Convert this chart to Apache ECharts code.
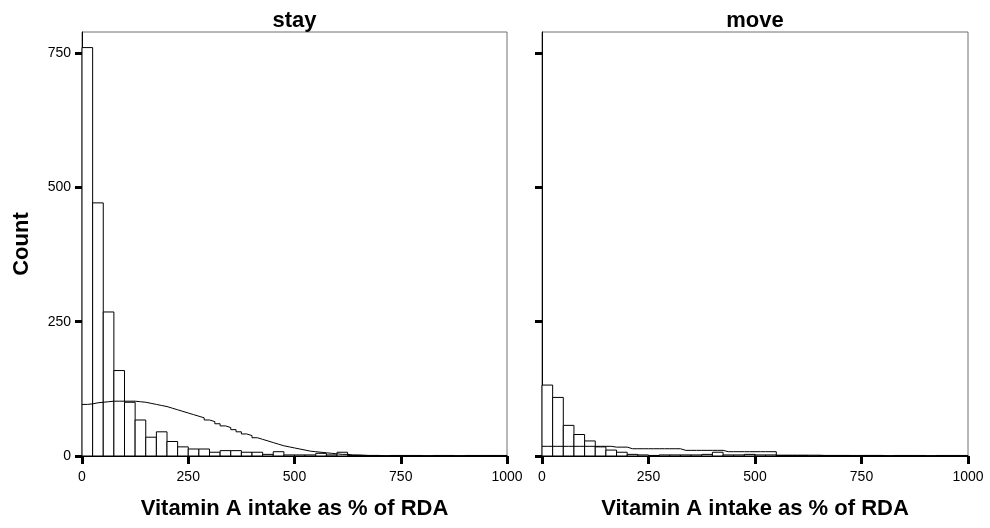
<!DOCTYPE html>
<html>
<head>
<meta charset="utf-8">
<script src="https://cdn.jsdelivr.net/npm/echarts@6/dist/echarts.min.js"></script>
<style>
  html, body { margin: 0; padding: 0; background: #fff; }
  #chart { width: 990px; height: 528px; }
</style>
</head>
<body>
<div id="chart"></div>
<script>
// Histogram bins: 40 bins of width 25 covering 0–1000 (% of RDA)
const binWidth = 25;

// Counts per bin for each group
const stayCounts = [
  760, 471, 268, 159, 100, 67, 35, 45, 27, 17,
  13, 13, 7, 10, 10, 7, 7, 3, 8, 2,
  2, 2, 5, 2, 7, 1, 1, 1, 0, 1,
  1, 1, 0, 1, 1, 0, 1, 1, 1, 1
];
const moveCounts = [
  132, 109, 57, 40, 28, 17, 11, 7, 3, 2,
  1, 2, 2, 2, 2, 3, 7, 2, 2, 3,
  2, 2, 1, 1, 1, 0, 1, 1, 1, 0,
  1, 1, 0, 1, 1, 1, 0, 1, 1, 1
];

// Fitted normal curves, sampled every 12.5 units from 0 to 1000
const curveStep = 12.5;
const stayCurve = [
  96, 97, 99, 100, 101, 102, 102, 102, 102, 102,
  101, 100, 98, 96, 94, 92, 89, 86, 83, 80,
  77, 74, 71, 67, 64, 60, 56, 53, 49, 45,
  41, 38, 34, 31, 28, 25, 22, 19, 17, 15,
  13, 11, 9, 8, 7, 6, 5, 4, 3, 3,
  2, 2, 1.5, 1, 1, 1, 0.5, 0.5, 0.5, 0.5,
  0.5, 0.5, 0.5, 0.5, 0.5, 0.5, 0.5, 0.5, 0.5, 0.5,
  0.5, 0.5, 0.5, 0.5, 0.5, 0.5, 0.5, 0.5, 0.5, 0.5,
  0.5
];
const moveCurve = [
  18, 18, 18, 18, 18, 18, 18, 18, 18, 18,
  18, 18, 18, 16.5, 16.5, 16.5, 13.5, 13.5, 13.5, 13.5,
  13.5, 13.5, 13.5, 13.5, 13.5, 13.5, 10.5, 10.5, 10.5, 10.5,
  10.5, 10.5, 10.5, 10.5, 8, 8, 8, 8, 8, 8,
  8, 8, 8, 8, 1.5, 1.5, 1.5, 1.5, 1.5, 1.5,
  1.5, 1.5, 1, 1, 1, 1, 1, 1, 1, 1,
  1, 1, 1, 1, 0.5, 0.5, 0.5, 0.5, 0.5, 0.5,
  0.5, 0.5, 0.5, 0.5, 0.5, 0.5, 0.5, 0.5, 0.5, 0.5,
  0.5
];

const panelTitles = ['stay', 'move'];
const xTicks = [0, 250, 500, 750, 1000];
const yTicks = [0, 250, 500, 750];
const xTitle = 'Vitamin A intake as % of RDA';
const yTitle = 'Count';

const FONT = 'Arial, "Liberation Sans", Helvetica, sans-serif';
const TITLE_SIZE = 22;
const TICK_SIZE = 14;

function binData(counts) {
  return counts.map((c, i) => [i * binWidth, (i + 1) * binWidth, c]);
}
function curveData(vals) {
  return vals.map((v, i) => [i * curveStep, v]);
}

function histSeries(counts, idx) {
  return {
    type: 'custom',
    xAxisIndex: idx,
    yAxisIndex: idx,
    data: binData(counts),
    encode: { x: [0, 1], y: 2 },
    renderItem: function (params, api) {
      const p0 = api.coord([api.value(0), 0]);
      const p1 = api.coord([api.value(1), api.value(2)]);
      return {
        type: 'rect',
        shape: { x: p0[0], y: p1[1], width: p1[0] - p0[0], height: p0[1] - p1[1] },
        style: { fill: '#ffffff', stroke: '#000000', lineWidth: 1 }
      };
    },
    z: 2
  };
}

function curveSeries(vals, idx) {
  return {
    type: 'line',
    xAxisIndex: idx,
    yAxisIndex: idx,
    data: curveData(vals),
    step: 'end',
    showSymbol: false,
    symbol: 'none',
    lineStyle: { color: '#000', width: 1 },
    silent: true,
    z: 3
  };
}

const grids = [
  { left: 82, top: 32, width: 425, height: 424 },
  { left: 542, top: 32, width: 426, height: 424 }
];

const option = {
  animation: false,
  backgroundColor: '#ffffff',
  grid: grids.map(g => Object.assign({ show: true, borderColor: '#707070', borderWidth: 1, backgroundColor: 'transparent' }, g)),
  xAxis: [0, 1].map(i => ({
    type: 'value',
    gridIndex: i,
    min: 0,
    max: 1000,
    interval: 250,
    name: xTitle,
    nameLocation: 'middle',
    nameGap: 42,
    nameTextStyle: { fontFamily: FONT, fontWeight: 'bold', fontSize: TITLE_SIZE, color: '#000' },
    axisLine: { show: true, onZero: false, lineStyle: { color: '#000', width: 1 } },
    axisTick: { show: true, length: 8, lineStyle: { color: '#000', width: 3 }, customValues: xTicks },
    axisLabel: {
      show: true, margin: 14, fontFamily: FONT, fontSize: TICK_SIZE, color: '#000',
      customValues: xTicks, formatter: v => String(v)
    },
    splitLine: { show: false }
  })),
  yAxis: [0, 1].map(i => ({
    type: 'value',
    gridIndex: i,
    min: 0,
    max: 789,
    interval: 250,
    name: i === 0 ? yTitle : '',
    nameLocation: 'middle',
    nameGap: 49,
    nameRotate: 90,
    nameTextStyle: { fontFamily: FONT, fontWeight: 'bold', fontSize: TITLE_SIZE, color: '#000' },
    axisLine: { show: true, onZero: false, lineStyle: { color: '#000', width: 1 } },
    axisTick: { show: true, length: 7, lineStyle: { color: '#000', width: 3 }, customValues: yTicks },
    axisLabel: {
      show: i === 0, margin: 11, fontFamily: FONT, fontSize: TICK_SIZE, color: '#000',
      customValues: yTicks, formatter: v => String(v)
    },
    splitLine: { show: false }
  })),
  graphic: panelTitles.map((t, i) => ({
    type: 'text',
    x: grids[i].left + grids[i].width / 2,
    y: 10,
    style: { text: t, textAlign: 'center', textVerticalAlign: 'top', font: 'bold ' + TITLE_SIZE + 'px ' + FONT, fill: '#000' }
  })),
  series: [
    histSeries(stayCounts, 0),
    curveSeries(stayCurve, 0),
    histSeries(moveCounts, 1),
    curveSeries(moveCurve, 1)
  ]
};

const chart = echarts.init(document.getElementById('chart'), null, { renderer: 'canvas' });
chart.setOption(option);
</script>
</body>
</html>
